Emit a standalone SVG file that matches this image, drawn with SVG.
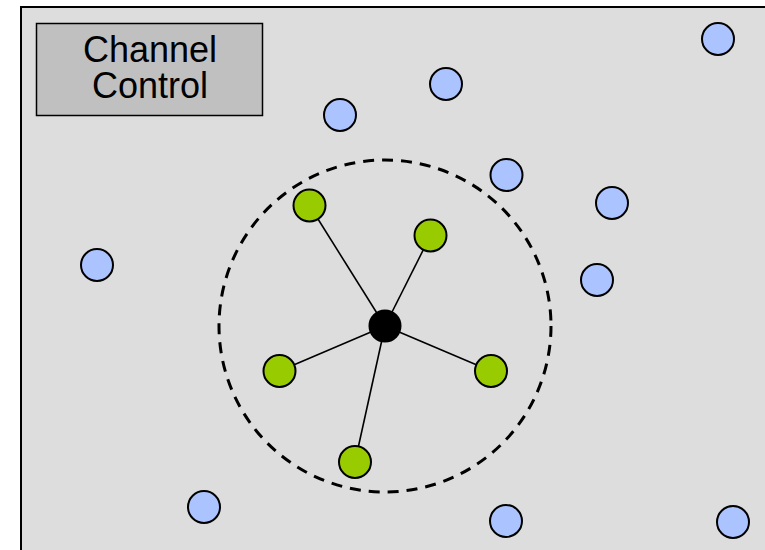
<svg xmlns="http://www.w3.org/2000/svg" width="765" height="550" viewBox="0 0 765 550">
<style>
.blue{fill:#abc4ff;stroke:#000;stroke-width:2}
.green{fill:#99cc00;stroke:#000;stroke-width:2}
.hub{fill:#000;stroke:#000;stroke-width:2}
.link{stroke:#000;stroke-width:1.6;fill:none}
.lbl{font-family:"Liberation Sans",Arial,sans-serif;font-size:36px;fill:#000;text-anchor:middle}
</style>
<rect width="765" height="550" fill="#ffffff"/>
<rect id="frame" x="21" y="7" width="760" height="560" fill="#dddddd" stroke="#000" stroke-width="2"/>
<g id="channel-control">
<rect x="36.500" y="23.500" width="226" height="92" fill="#c0c0c0" stroke="#000" stroke-width="1.5"/>
<text class="lbl" x="150" y="62">Channel</text>
<text class="lbl" x="150" y="98">Control</text>
</g>
<circle id="range" cx="385" cy="326" r="166" fill="none" stroke="#000" stroke-width="3" stroke-dasharray="11 8"/>
<g id="connectors">
<line class="link" x1="385" y1="326" x2="309.500" y2="205.500"/>
<line class="link" x1="385" y1="326" x2="430.500" y2="235.500"/>
<line class="link" x1="385" y1="326" x2="279.500" y2="371"/>
<line class="link" x1="385" y1="326" x2="491" y2="371"/>
<line class="link" x1="385" y1="326" x2="355" y2="462"/>
</g>
<g id="g1"><circle class="green" cx="309.500" cy="205.500" r="16"/></g>
<g id="g2"><circle class="green" cx="430.500" cy="235.500" r="16"/></g>
<g id="g3"><circle class="green" cx="279.500" cy="371" r="16"/></g>
<g id="g4"><circle class="green" cx="491" cy="371" r="16"/></g>
<g id="g5"><circle class="green" cx="355" cy="462" r="16"/></g>
<g id="hub"><circle class="hub" cx="385" cy="326" r="15.500"/></g>
<g id="b1"><circle class="blue" cx="718" cy="39" r="16"/></g>
<g id="b2"><circle class="blue" cx="446" cy="84" r="16"/></g>
<g id="b3"><circle class="blue" cx="340" cy="115" r="16"/></g>
<g id="b4"><circle class="blue" cx="506.500" cy="175" r="16"/></g>
<g id="b5"><circle class="blue" cx="612" cy="203" r="16"/></g>
<g id="b6"><circle class="blue" cx="97" cy="265" r="16"/></g>
<g id="b7"><circle class="blue" cx="597" cy="280" r="16"/></g>
<g id="b8"><circle class="blue" cx="204" cy="507" r="16"/></g>
<g id="b9"><circle class="blue" cx="506" cy="521" r="16"/></g>
<g id="b10"><circle class="blue" cx="733" cy="522" r="16"/></g>
</svg>
